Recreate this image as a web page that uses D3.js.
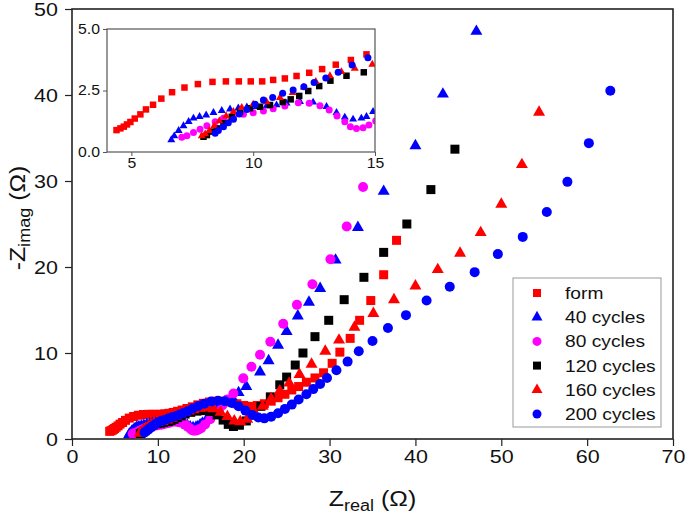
<!DOCTYPE html>
<html><head><meta charset="utf-8">
<script src="https://cdn.jsdelivr.net/npm/d3@7"></script>
<style>body{margin:0;background:#fff}svg{display:block;font-family:Arial,"Liberation Sans",sans-serif}</style>
</head><body><svg id="c" width="685" height="519"></svg>
<script>
// ---------- data ----------
const seriesNames = ["form","40 cycles","80 cycles","120 cycles","160 cycles","200 cycles"];
const seriesColors = ["#ff0000","#0000ff","#ff00ff","#000000","#ff0000","#0000ff"];
const seriesShapes = ["square","triangle","circle","square","triangle","circle"];
const xTicksMain = [0,10,20,30,40,50,60,70];
const yTicksMain = [0,10,20,30,40,50];
const xTicksInset = [5,10,15];
const yTicksInset = [0,2.5,5];

const form = [[4.39,0.89],[4.55,0.96],[4.69,1.03],[4.82,1.12],[4.96,1.22],[5.14,1.36],[5.37,1.53],[5.60,1.73],[5.89,1.92],[6.23,2.17],[6.67,2.43],[7.18,2.62],[7.73,2.76],[8.33,2.85],[8.88,2.87],[9.41,2.87],[9.90,2.87],[10.37,2.87],[10.82,2.93],[11.30,2.99],[11.78,3.09],[12.30,3.22],[12.83,3.37],[13.39,3.55],[14.01,3.74],[14.65,3.97],[15.3,4.15],[16.0,4.3],[16.8,4.4],[17.6,4.4],[18.4,4.3],[19.2,4.1],[20.0,3.9],[20.8,3.8],[21.6,3.9],[22.4,4.1],[23.2,4.4],[24.0,4.8],[24.8,5.2],[25.6,5.7],[26.4,6.1],[27.3,6.6],[28.3,7.1],[29.3,7.7],[30.3,8.8],[31.2,10.1],[32.4,11.7],[33.5,13.8],[34.8,16.1],[36.3,19.1],[37.8,23.1]];
const c40 = [[6.64,0.49],[6.76,0.65],[6.94,0.87],[7.14,1.06],[7.35,1.23],[7.55,1.37],[7.80,1.44],[8.07,1.50],[8.37,1.60],[8.71,1.68],[9.05,1.74],[9.39,1.78],[9.74,1.82],[10.14,1.84],[10.55,1.87],[10.96,1.91],[11.37,1.98],[11.92,2.05],[12.46,2.02],[13.01,1.84],[13.42,1.60],[13.76,1.41],[14.10,1.33],[14.44,1.37],[14.65,1.44],[14.92,1.64],[15.19,1.84],[15.7,2.3],[16.3,2.9],[17.0,3.6],[17.8,4.3],[18.6,4.9],[19.4,5.4],[20.3,6.1],[21.9,7.8],[22.9,9.1],[24.0,10.9],[25.0,12.5],[26.3,14.3],[27.6,15.9],[28.9,17.5],[30.7,20.8],[33.3,24.6],[36.3,28.8],[40.0,34.1],[43.2,40.1],[47.1,47.4]];
const c80 = [[7.07,0.60],[7.28,0.66],[7.55,0.79],[7.82,0.92],[8.10,1.07],[8.44,1.23],[8.78,1.37],[9.19,1.46],[9.60,1.53],[10.0,1.60],[10.42,1.67],[10.82,1.76],[11.30,1.87],[11.85,2.0],[12.30,1.98],[12.74,1.88],[13.12,1.71],[13.44,1.46],[13.76,1.23],[13.99,1.03],[14.24,0.96],[14.51,0.99],[14.75,1.10],[15.03,1.26],[15.5,1.7],[16.1,2.3],[16.8,3.1],[17.5,3.9],[18.1,4.6],[18.8,5.3],[19.95,7.05],[20.9,8.4],[21.9,9.8],[23.1,11.3],[24.6,13.4],[26.2,15.6],[28.0,18.0],[30.1,20.9],[32.0,24.7],[33.9,29.3]];
const c120 = [[7.96,0.62],[8.10,0.69],[8.30,0.83],[8.51,0.96],[8.78,1.17],[9.12,1.43],[9.46,1.64],[9.87,1.78],[10.28,1.84],[10.69,1.91],[11.21,2.03],[11.54,2.14],[11.89,2.28],[12.26,2.48],[12.71,2.68],[13.17,2.90],[13.83,3.10],[14.54,3.24],[15.3,3.3],[16.1,3.2],[16.9,2.8],[17.6,2.2],[18.2,1.7],[18.8,1.45],[19.5,1.6],[20.3,2.1],[21.1,2.8],[22.0,3.8],[23.1,4.9],[24.2,6.3],[25.0,7.2],[26.0,8.6],[26.9,10.0],[28.3,11.9],[29.9,13.8],[31.7,16.2],[34.0,18.8],[36.3,21.7],[39.0,25.0],[41.8,29.0],[44.6,33.7]];
const c160 = [[7.89,0.65],[8.03,0.73],[8.20,0.87],[8.40,1.06],[8.61,1.26],[8.89,1.46],[9.19,1.64],[9.53,1.80],[10.0,1.94],[10.55,2.04],[11.10,2.21],[11.62,2.41],[12.08,2.63],[12.57,2.86],[13.15,3.09],[13.62,3.26],[14.17,3.40],[14.89,3.56],[15.7,3.6],[16.5,3.5],[17.3,3.1],[18.1,2.6],[18.9,2.1],[19.6,2.0],[20.4,2.3],[21.3,3.0],[22.2,3.8],[23.2,4.7],[24.2,5.6],[25.3,6.5],[26.5,7.5],[27.9,8.7],[29.5,10.2],[31.1,11.5],[32.9,13.0],[35.1,14.6],[37.5,16.2],[40.0,17.8],[42.6,19.7],[45.2,21.6],[47.6,24.0],[50.0,27.3],[52.4,31.9],[54.4,38.0]];
const c200 = [[8.44,0.76],[8.57,0.87],[8.78,1.03],[8.98,1.19],[9.19,1.33],[9.43,1.54],[9.74,1.73],[10.08,1.94],[10.42,2.11],[10.80,2.22],[11.21,2.39],[11.64,2.52],[12.08,2.65],[12.50,2.83],[12.98,3.01],[13.49,3.24],[14.06,3.54],[14.71,3.83],[15.4,4.1],[16.2,4.35],[17.0,4.45],[17.8,4.4],[18.6,4.2],[19.4,3.8],[20.2,3.3],[21.0,2.8],[21.7,2.5],[22.4,2.4],[23.2,2.6],[24.0,3.0],[24.8,3.5],[25.6,4.0],[26.4,4.6],[27.3,5.2],[28.1,5.8],[28.9,6.4],[29.7,7.1],[30.8,8.0],[32.1,9.0],[33.4,10.2],[35.0,11.4],[36.8,12.9],[38.9,14.4],[41.3,16.1],[44.0,17.7],[46.9,19.4],[49.6,21.5],[52.5,23.5],[55.3,26.4],[57.7,29.9],[60.2,34.4],[62.7,40.5]];
const seriesData = [form,c40,c80,c120,c160,c200];

// ---------- drawing ----------
const svg = d3.select("#c");
const M = {l:72,r:673,t:9,b:439};
const x = d3.scaleLinear().domain([0,70]).range([M.l,M.r]);
const y = d3.scaleLinear().domain([0,50]).range([M.b,M.t]);
const SX = 1.13; // horizontal stretch of the reference lettering

const symType = {square:d3.symbolSquare,triangle:d3.symbolTriangle,circle:d3.symbolCircle};
function symPath(shape, s){
  let area;
  if(shape==="square") area = s*s;
  else if(shape==="circle") area = Math.PI*(s/2)*(s/2);
  else area = Math.sqrt(3)/4*s*s;
  return d3.symbol().type(symType[shape]).size(area)();
}
const mainSize = {square:9,triangle:12,circle:10};
const insetSize = {square:6.5,triangle:8,circle:7};

const defs = svg.append("defs");
defs.append("clipPath").attr("id","clipMain")
  .append("rect").attr("x",M.l).attr("y",M.t).attr("width",M.r-M.l).attr("height",M.b-M.t);

const gm = svg.append("g").attr("clip-path","url(#clipMain)");
seriesData.forEach((d,i)=>{
  gm.append("g").selectAll("path").data(d).join("path")
    .attr("d",symPath(seriesShapes[i],mainSize[seriesShapes[i]]))
    .attr("transform",p=>`translate(${x(p[0])},${y(p[1])})`)
    .attr("fill",seriesColors[i]);
});

function stretchTicks(a, size){
  a.selectAll(".tick text").each(function(){
    const t = d3.select(this);
    const x0 = +t.attr("x")||0, y0 = +t.attr("y")||0;
    t.attr("x",0).attr("y",0)
     .attr("transform",`translate(${x0},${y0}) scale(${SX},1)`)
     .attr("font-size",size).attr("fill","#111")
     .attr("font-family","Arial, 'Liberation Sans', sans-serif");
  });
}

// axes
const xa = svg.append("g").attr("transform",`translate(0,${M.b})`)
  .call(d3.axisBottom(x).tickValues(xTicksMain).tickSize(7).tickPadding(3).tickFormat(d3.format("d")));
const ya = svg.append("g").attr("transform",`translate(${M.l},0)`)
  .call(d3.axisLeft(y).tickValues(yTicksMain).tickSize(7).tickPadding(7).tickFormat(d3.format("d")));
[xa,ya].forEach(a=>{
  a.select(".domain").remove();
  a.selectAll(".tick line").attr("stroke","#222").attr("stroke-width",1.2);
  stretchTicks(a,19);
});
svg.append("rect").attr("x",M.l).attr("y",M.t).attr("width",M.r-M.l).attr("height",M.b-M.t)
  .attr("fill","none").attr("stroke","#222").attr("stroke-width",1.6);

// axis titles
const xt = svg.append("text").attr("transform",`translate(${(M.l+M.r)/2},506) scale(${SX},1)`)
  .attr("text-anchor","middle").attr("font-size",22).attr("fill","#111");
xt.append("tspan").text("Z");
xt.append("tspan").text("real").attr("font-size",16).attr("dy",5);
xt.append("tspan").text(" (Ω)").attr("dy",-5);

const yt = svg.append("text").attr("transform",`translate(25,${(M.t+M.b)/2 - 6}) rotate(-90) scale(${SX},1)`)
  .attr("text-anchor","middle").attr("font-size",22).attr("fill","#111");
yt.append("tspan").text("-Z");
yt.append("tspan").text("imag").attr("font-size",16).attr("dy",5);
yt.append("tspan").text(" (Ω)").attr("dy",-5);

// legend
const L = {x:513,y:278,w:148,h:149};
svg.append("rect").attr("x",L.x).attr("y",L.y).attr("width",L.w).attr("height",L.h)
  .attr("fill","#fff").attr("stroke","#999").attr("stroke-width",1);
seriesNames.forEach((n,i)=>{
  const yy = L.y+15+i*24.2;
  svg.append("path").attr("d",symPath(seriesShapes[i],seriesShapes[i]==="triangle"?11:(seriesShapes[i]==="square"?8:9)))
    .attr("transform",`translate(${L.x+24},${yy})`).attr("fill",seriesColors[i]);
  svg.append("text").attr("transform",`translate(${L.x+52},${yy+6}) scale(${SX},1)`)
    .attr("font-size",17).attr("fill","#111").text(n);
});

// inset
const I = {l:107,r:375,t:29,b:152};
const xi = d3.scaleLinear().domain([4,15]).range([I.l,I.r]);
const yi = d3.scaleLinear().domain([0,5]).range([I.b,I.t]);
svg.append("rect").attr("x",I.l).attr("y",I.t).attr("width",I.r-I.l).attr("height",I.b-I.t).attr("fill","#fff");
defs.append("clipPath").attr("id","clipInset")
  .append("rect").attr("x",I.l).attr("y",I.t).attr("width",I.r-I.l).attr("height",I.b-I.t);
const gi = svg.append("g").attr("clip-path","url(#clipInset)");
seriesData.forEach((d,i)=>{
  gi.append("g").selectAll("path").data(d).join("path")
    .attr("d",symPath(seriesShapes[i],insetSize[seriesShapes[i]]))
    .attr("transform",p=>`translate(${xi(p[0])},${yi(p[1])})`)
    .attr("fill",seriesColors[i]);
});
const xia = svg.append("g").attr("transform",`translate(0,${I.b})`)
  .call(d3.axisBottom(xi).tickValues(xTicksInset).tickSize(4).tickPadding(2).tickFormat(d3.format("d")));
const yia = svg.append("g").attr("transform",`translate(${I.l},0)`)
  .call(d3.axisLeft(yi).tickValues(yTicksInset).tickSize(4).tickPadding(3).tickFormat(d3.format(".1f")));
[xia,yia].forEach(a=>{
  a.select(".domain").remove();
  a.selectAll(".tick line").attr("stroke","#555");
  stretchTicks(a,14);
});
svg.append("rect").attr("x",I.l).attr("y",I.t).attr("width",I.r-I.l).attr("height",I.b-I.t)
  .attr("fill","none").attr("stroke","#555").attr("stroke-width",1.2);
</script></body></html>
